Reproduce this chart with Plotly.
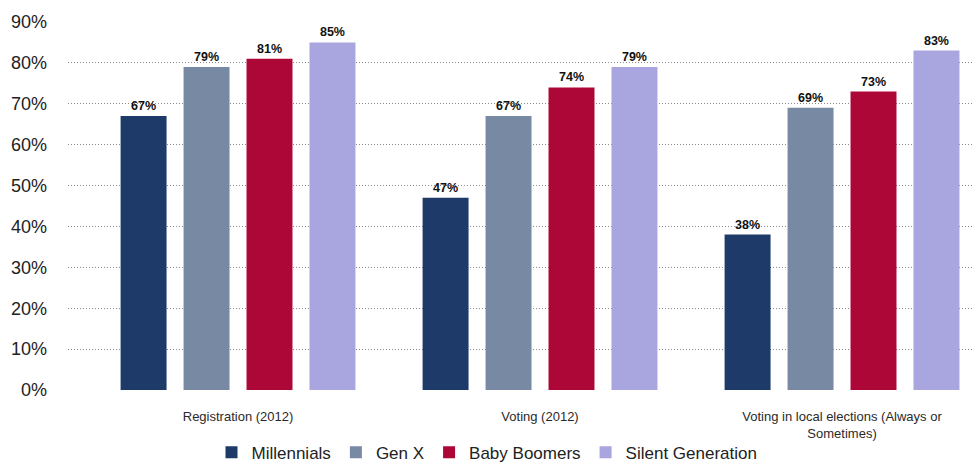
import plotly.graph_objects as go

categories = ["Registration (2012)", "Voting (2012)",
              "Voting in local elections (Always or<br>Sometimes)"]
series_names = ["Millennials", "Gen X", "Baby Boomers", "Silent Generation"]
millennials = [67, 47, 38]
gen_x = [79, 67, 69]
baby_boomers = [81, 74, 73]
silent_generation = [85, 79, 83]
colors = ["#1E3A68", "#7889A4", "#AD0737", "#A9A5DE"]
y_ticks = [0, 10, 20, 30, 40, 50, 60, 70, 80, 90]

fig = go.Figure()
for name, vals, col in zip(series_names,
                           [millennials, gen_x, baby_boomers, silent_generation],
                           colors):
    fig.add_trace(go.Bar(
        x=categories, y=vals, name=name, marker=dict(color=col, line=dict(width=0)),
        text=[f"{v}%" for v in vals], textposition="outside",
        textfont=dict(family="Liberation Sans", size=12.5, color="#111111", weight="bold"),
        cliponaxis=False,
    ))

fig.update_layout(
    width=974, height=463,
    margin=dict(l=68, r=0, t=22, b=73, autoexpand=False),
    plot_bgcolor="white", paper_bgcolor="white",
    barmode="group", bargap=0.166, bargroupgap=0.27,
    font=dict(family="Liberation Sans", color="#222222"),
    showlegend=True,
    legend=dict(orientation="h", xref="container", yref="container",
                x=0.5, xanchor="center", y=0.022, yanchor="middle",
                font=dict(size=17, color="#222222"), itemwidth=30,
                traceorder="normal"),
    xaxis=dict(range=[-0.563, 2.437], showgrid=False, showline=False,
               ticks="", tickfont=dict(size=13, color="#2a2a2a"),
               ticklabelstandoff=17, automargin=False),
    yaxis=dict(range=[0, 90], tickvals=y_ticks,
               ticktext=[f"{v}%" for v in y_ticks],
               tickfont=dict(size=18, color="#222222"),
               showgrid=True, gridcolor="#8a8a8a", griddash="1px,2px", gridwidth=1,
               zeroline=False, showline=False, layer="above traces",
               ticklabelstandoff=20, automargin=False),
)

fig.write_html("out.html")
